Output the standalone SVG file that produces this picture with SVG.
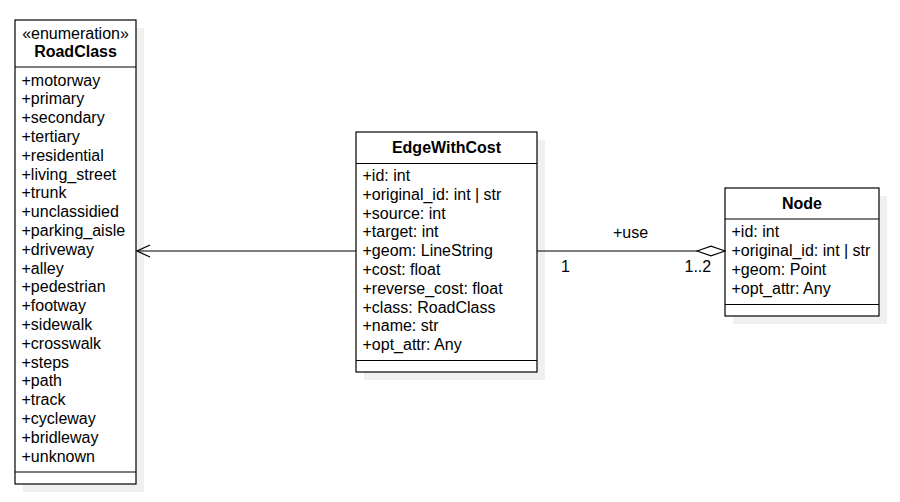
<svg xmlns="http://www.w3.org/2000/svg" width="900" height="502" viewBox="0 0 900 502">
<style>
.box{fill:#fff;stroke:#000;stroke-width:1.2}
.shadow{fill:#f0f0f0}
.div{stroke:#000;stroke-width:1.2}
text{font-family:"Liberation Sans",Arial,sans-serif;font-size:16px;fill:#000}
.t{font-weight:bold;text-anchor:middle}
.c{text-anchor:middle}
.edge{stroke:#000;stroke-width:1.2;fill:none}
</style>
<defs>
<marker id="open" markerUnits="userSpaceOnUse" markerWidth="16" markerHeight="14" refX="15" refY="7" orient="auto" viewBox="0 0 16 14"><path d="M2,1 L15,7 L2,13" fill="none" stroke="#000" stroke-width="1.2"/></marker>
<marker id="diamond" markerUnits="userSpaceOnUse" markerWidth="30" markerHeight="12" refX="29" refY="6" orient="auto" viewBox="0 0 30 12"><path d="M1,6 L15,1.2 L29,6 L15,10.8 Z" fill="#fff" stroke="#000" stroke-width="1.2"/></marker>
</defs>
<g id="RoadClass">
<rect class="shadow" x="23" y="28" width="121" height="464"/>
<rect class="box" x="15" y="20" width="121" height="464"/>
<text class="c" x="75.5" y="39">«enumeration»</text>
<text class="t" x="75.5" y="57">RoadClass</text>
<line class="div" x1="15" y1="67" x2="136" y2="67"/>
<text x="21.5" y="85.5">+motorway</text>
<text x="21.5" y="104.3">+primary</text>
<text x="21.5" y="123.1">+secondary</text>
<text x="21.5" y="141.9">+tertiary</text>
<text x="21.5" y="160.7">+residential</text>
<text x="21.5" y="179.5">+living_street</text>
<text x="21.5" y="198.3">+trunk</text>
<text x="21.5" y="217.1">+unclassidied</text>
<text x="21.5" y="235.9">+parking_aisle</text>
<text x="21.5" y="254.7">+driveway</text>
<text x="21.5" y="273.5">+alley</text>
<text x="21.5" y="292.3">+pedestrian</text>
<text x="21.5" y="311.1">+footway</text>
<text x="21.5" y="329.9">+sidewalk</text>
<text x="21.5" y="348.7">+crosswalk</text>
<text x="21.5" y="367.5">+steps</text>
<text x="21.5" y="386.3">+path</text>
<text x="21.5" y="405.1">+track</text>
<text x="21.5" y="423.9">+cycleway</text>
<text x="21.5" y="442.7">+bridleway</text>
<text x="21.5" y="461.5">+unknown</text>
<line class="div" x1="15" y1="472" x2="136" y2="472"/>
</g>
<g id="EdgeWithCost">
<rect class="shadow" x="364" y="140" width="181" height="240"/>
<rect class="box" x="356" y="132" width="181" height="240"/>
<text class="t" x="446.5" y="152.5">EdgeWithCost</text>
<line class="div" x1="356" y1="163.5" x2="537" y2="163.5"/>
<text x="362.5" y="181">+id: int</text>
<text x="362.5" y="199.8">+original_id: int | str</text>
<text x="362.5" y="218.6">+source: int</text>
<text x="362.5" y="237.4">+target: int</text>
<text x="362.5" y="256.2">+geom: LineString</text>
<text x="362.5" y="275">+cost: float</text>
<text x="362.5" y="293.8">+reverse_cost: float</text>
<text x="362.5" y="312.6">+class: RoadClass</text>
<text x="362.5" y="331.4">+name: str</text>
<text x="362.5" y="350.2">+opt_attr: Any</text>
<line class="div" x1="356" y1="360.5" x2="537" y2="360.5"/>
</g>
<g id="Node">
<rect class="shadow" x="733" y="196" width="154" height="128"/>
<rect class="box" x="725" y="188" width="154" height="128"/>
<text class="t" x="802" y="208.5">Node</text>
<line class="div" x1="725" y1="219" x2="879" y2="219"/>
<text x="731.5" y="237.3">+id: int</text>
<text x="731.5" y="256.1">+original_id: int | str</text>
<text x="731.5" y="274.9">+geom: Point</text>
<text x="731.5" y="293.7">+opt_attr: Any</text>
<line class="div" x1="725" y1="304.5" x2="879" y2="304.5"/>
</g>
<g id="connectors">
<line class="edge" x1="356" y1="251" x2="137" y2="251" marker-end="url(#open)"/>
<line class="edge" x1="537" y1="251" x2="725" y2="251" marker-end="url(#diamond)"/>
<text class="c" x="630.5" y="237.5">+use</text>
<text x="561" y="272">1</text>
<text x="684.5" y="272">1..2</text>
</g>
</svg>
